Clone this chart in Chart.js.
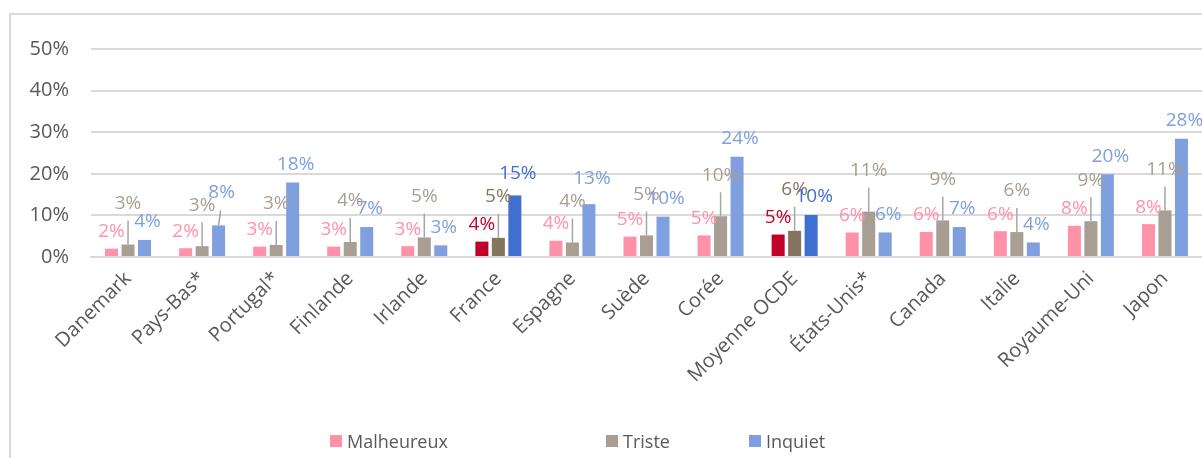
<!DOCTYPE html>
<html lang="fr">
<head>
  <meta charset="UTF-8">
  <title>Malheureux, triste, inquiet</title>
  <script src="https://cdn.jsdelivr.net/npm/chart.js"></script>
  <style>
    body { margin: 0; background: #fff; font-family: "Open Sans", sans-serif; }
    #cadre {
      position: absolute; left: 9px; top: 13px; width: 1193px; height: 445px;
      border-left: 2px solid #d9d9d9; border-top: 2px solid #d9d9d9;
    }
    #graphique { display: block; }
    #legende { position: absolute; top: 429px; left: 0; width: 1202px; height: 26px; }
    .item { position: absolute; display: flex; align-items: center; font-size: 18px; color: #595959; }
    .item span.boite { width: 12px; height: 12px; margin-right: 5px; display: inline-block; }
  </style>
</head>
<body>
  <div id="cadre"><canvas id="graphique" width="1191" height="443"></canvas></div>
  <div id="legende"></div>

  <script>
    // Données
    const pays = ['Danemark', 'Pays-Bas*', 'Portugal*', 'Finlande', 'Irlande', 'France', 'Espagne',
      'Suède', 'Corée', 'Moyenne OCDE', 'États-Unis*', 'Canada', 'Italie', 'Royaume-Uni', 'Japon'];
    const malheureux = [2.0, 2.1, 2.5, 2.5, 2.6, 3.7, 3.9, 4.9, 5.2, 5.4, 5.9, 6.0, 6.2, 7.5, 7.9];
    const triste = [3.0, 2.6, 2.9, 3.6, 4.7, 4.6, 3.5, 5.2, 9.8, 6.3, 10.9, 8.8, 6.0, 8.6, 11.2];
    const inquiet = [4.1, 7.6, 17.9, 7.2, 2.8, 14.8, 12.7, 9.7, 24.1, 10.1, 5.9, 7.2, 3.5, 19.9, 28.4];
    const enEvidence = ['France', 'Moyenne OCDE'];
    const ticksY = [0, 10, 20, 30, 40, 50];

    // Couleurs (normale / mise en évidence)
    const series = [
      { nom: 'Malheureux', valeurs: malheureux, couleur: '#ff91a8', fonce: '#c0002a' },
      { nom: 'Triste', valeurs: triste, couleur: '#a89e94', fonce: '#857560' },
      { nom: 'Inquiet', valeurs: inquiet, couleur: '#7f9fdf', fonce: '#3f6fd1' }
    ];

    // étiquettes "Inquiet" déplacées à la main dans l'original (px en plus)
    const remonteInquiet = { 'Pays-Bas*': 15, 'France': 4, 'Espagne': 8 };

    const couleurs = s => pays.map(p => enEvidence.includes(p) ? s.fonce : s.couleur);

    function trait(ctx, x1, y1, x2, y2) {
      ctx.strokeStyle = '#a6a6a6';
      ctx.lineWidth = 1.5;
      ctx.beginPath();
      ctx.moveTo(x1, y1);
      ctx.lineTo(x2, y2);
      ctx.stroke();
    }

    // Étiquettes de données (au-dessus des barres, trait de rappel pour "Triste")
    const etiquettes = {
      id: 'etiquettes',
      afterDatasetsDraw(chart) {
        const ctx = chart.ctx;
        ctx.save();
        ctx.font = '19px "Open Sans"';
        ctx.textAlign = 'center';
        ctx.textBaseline = 'middle';
        chart.data.datasets.forEach((ds, i) => {
          const meta = chart.getDatasetMeta(i);
          meta.data.forEach((barre, j) => {
            const txt = Math.round(ds.data[j]) + '%';
            if (i === 0) {
              ctx.fillStyle = ds.backgroundColor[j];
              ctx.fillText(txt, barre.x, barre.y - 17);
            } else if (i === 1) {
              trait(ctx, barre.x, barre.y, barre.x, barre.y - 24);
              ctx.fillStyle = ds.backgroundColor[j];
              ctx.fillText(txt, barre.x, barre.y - 41);
            } else {
              const extra = remonteInquiet[pays[j]] || 0;
              if (extra > 10) trait(ctx, barre.x, barre.y, barre.x + 2, barre.y - extra);
              ctx.fillStyle = ds.backgroundColor[j];
              ctx.fillText(txt, barre.x + 3, barre.y - 18 - extra);
            }
          });
        });
        ctx.restore();
      }
    };

    new Chart(document.getElementById('graphique'), {
      type: 'bar',
      data: {
        labels: pays,
        datasets: series.map(s => ({
          label: s.nom,
          data: s.valeurs,
          backgroundColor: couleurs(s),
          categoryPercentage: 0.668,
          barPercentage: 0.79
        }))
      },
      options: {
        responsive: false,
        animation: false,
        devicePixelRatio: 1,
        layout: { padding: { top: 28, right: 0, bottom: 0, left: 0 } },
        plugins: { legend: { display: false }, tooltip: { enabled: false } },
        scales: {
          x: {
            grid: { display: false },
            border: { color: '#d9d9d9', width: 2 },
            ticks: {
              autoSkip: false, minRotation: 45, maxRotation: 45,
              color: '#595959', font: { family: 'Open Sans', size: 20 }, padding: 2
            },
            afterFit: s => { s.height = 201; }
          },
          y: {
            min: 0, max: 50,
            afterBuildTicks: s => { s.ticks = ticksY.map(v => ({ value: v })); },
            grid: { color: '#d9d9d9', lineWidth: 2, drawTicks: false },
            border: { display: false },
            ticks: {
              color: '#595959', font: { family: 'Open Sans', size: 20 }, padding: 22,
              callback: v => v + '%'
            },
            afterFit: s => { s.width = 80; }
          }
        }
      },
      plugins: [etiquettes]
    });

    // Légende
    const legende = document.getElementById('legende');
    const positions = [330, 606, 749];
    series.forEach((s, i) => {
      const el = document.createElement('div');
      el.className = 'item';
      el.style.left = positions[i] + 'px';
      el.innerHTML = '<span class="boite" style="background:' + s.couleur + '"></span>' + s.nom;
      legende.appendChild(el);
    });
  </script>
</body>
</html>
